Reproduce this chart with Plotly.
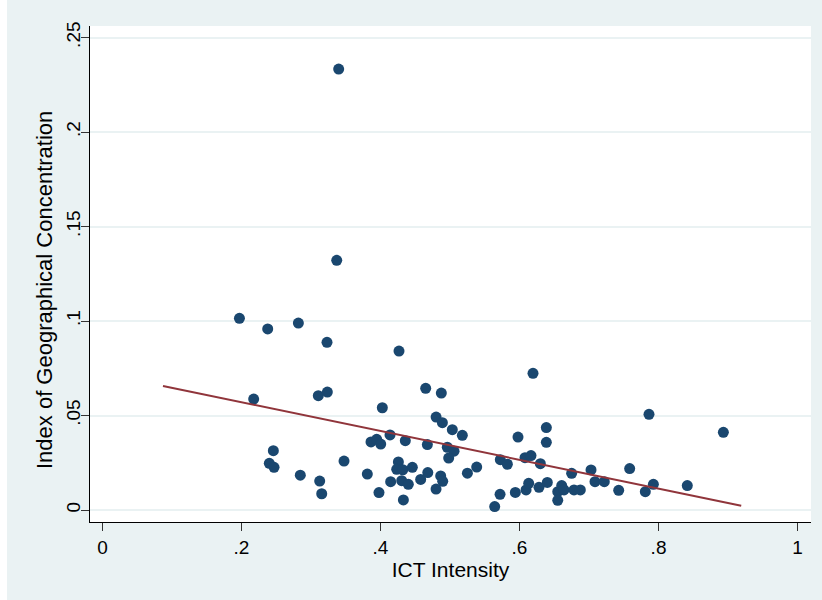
import plotly.graph_objects as go

# ICT intensity (x) and index of geographical concentration (y)
ict = [0.197, 0.2377, 0.2818, 0.323, 0.2175, 0.3105, 0.3235, 0.2458, 0.240, 0.2468,
       0.2846, 0.3125, 0.3154, 0.3398, 0.337,
       0.4266, 0.465, 0.4875, 0.4026, 0.480, 0.489, 0.5033, 0.5177, 0.4137, 0.3863,
       0.3945, 0.4003, 0.4357, 0.4674, 0.4961, 0.5058, 0.4981, 0.3475, 0.4257, 0.4233,
       0.432, 0.4458, 0.468, 0.4578, 0.4866, 0.4895, 0.4799, 0.381, 0.4146, 0.4305,
       0.440, 0.3978, 0.4329, 0.525,
       0.5384, 0.6194, 0.6386, 0.6386, 0.5978, 0.5724, 0.5825, 0.6079, 0.6165, 0.630,
       0.675, 0.7029, 0.7086, 0.7220, 0.5643, 0.572, 0.594, 0.6094, 0.6132, 0.628,
       0.640, 0.655, 0.6607, 0.664, 0.655, 0.6784, 0.6875,
       0.7863, 0.8933, 0.7585, 0.7427, 0.781, 0.7926, 0.8414]
geo = [0.1014, 0.0958, 0.0989, 0.0887, 0.0587, 0.0605, 0.0624, 0.0314, 0.0247, 0.0226,
       0.0184, 0.0153, 0.0086, 0.2333, 0.1321,
       0.0841, 0.0644, 0.0619, 0.0541, 0.0492, 0.0462, 0.0425, 0.0395, 0.0397, 0.036,
       0.0374, 0.0349, 0.0367, 0.0346, 0.0332, 0.0311, 0.0275, 0.0259, 0.0254, 0.0215,
       0.0213, 0.0226, 0.0198, 0.0162, 0.018, 0.0152, 0.0111, 0.019, 0.015, 0.0155,
       0.0136, 0.0092, 0.0053, 0.0195,
       0.0227, 0.0723, 0.0436, 0.0358, 0.0386, 0.0266, 0.0242, 0.0277, 0.0288, 0.0245,
       0.0194, 0.0212, 0.015, 0.015, 0.0018, 0.0083, 0.0093, 0.0106, 0.0141, 0.012,
       0.0146, 0.0097, 0.0129, 0.0106, 0.0051, 0.0106, 0.0106,
       0.0506, 0.0411, 0.0219, 0.0104, 0.0097, 0.0136, 0.0129]

# linear fit end points
fit_x = [0.087, 0.919]
fit_y = [0.0656, 0.0023]

x_tickvals = [0, 0.2, 0.4, 0.6, 0.8, 1]
x_ticktext = ["0", ".2", ".4", ".6", ".8", "1"]
y_tickvals = [0, 0.05, 0.1, 0.15, 0.2, 0.25]
y_ticktext = ["0", ".05", ".1", ".15", ".2", ".25"]
y_title = "Index of Geographical Concentration"
x_title = "ICT Intensity"

NAVY = "#1A476F"
MAROON = "#90353B"
BG = "#EAF2F3"
FONT = "Liberation Sans"

fig = go.Figure()
fig.add_trace(go.Scatter(x=ict, y=geo, mode="markers",
                         marker=dict(color=NAVY, size=11, line=dict(width=0)),
                         showlegend=False))
fig.add_trace(go.Scatter(x=fit_x, y=fit_y, mode="lines",
                         line=dict(color=MAROON, width=2), showlegend=False))

fig.update_layout(
    width=822, height=600,
    margin=dict(l=90, r=11, t=26, b=78, autoexpand=False),
    paper_bgcolor=BG, plot_bgcolor="white",
    font=dict(family=FONT, size=18, color="black"),
    xaxis=dict(range=[-0.018, 1.0194], tickvals=x_tickvals, ticktext=x_ticktext,
               showgrid=False, zeroline=False, showline=True, linecolor="black",
               linewidth=1, ticks="outside", ticklen=8, tickcolor="#333333",
               title=dict(text=x_title, standoff=5,
                          font=dict(family=FONT, size=21, color="black")),
               tickfont=dict(family=FONT, size=19, color="black"), automargin=False),
    yaxis=dict(range=[-0.00635, 0.2561], tickvals=y_tickvals, ticktext=y_ticktext,
               showgrid=True, gridcolor=BG, gridwidth=2, zeroline=False,
               showline=True, linecolor="black", linewidth=1,
               ticks="outside", ticklen=8, tickcolor="#333333", tickangle=-90,
               ticklabelstandoff=-7,
               tickfont=dict(family=FONT, size=19, color="black"), automargin=False),
    annotations=[
        dict(text=y_title, textangle=-90, xref="paper", yref="paper",
             x=-0.0638, y=0.4677, xanchor="center", yanchor="middle",
             showarrow=False, font=dict(family=FONT, size=22, color="black")),
    ],
    shapes=[
        dict(type="rect", xref="paper", yref="paper", x0=-0.13, x1=-0.1151,
             y0=-0.2, y1=1.1, fillcolor="white", line=dict(width=0), layer="below"),
    ],
)

fig.write_html("out.html")
